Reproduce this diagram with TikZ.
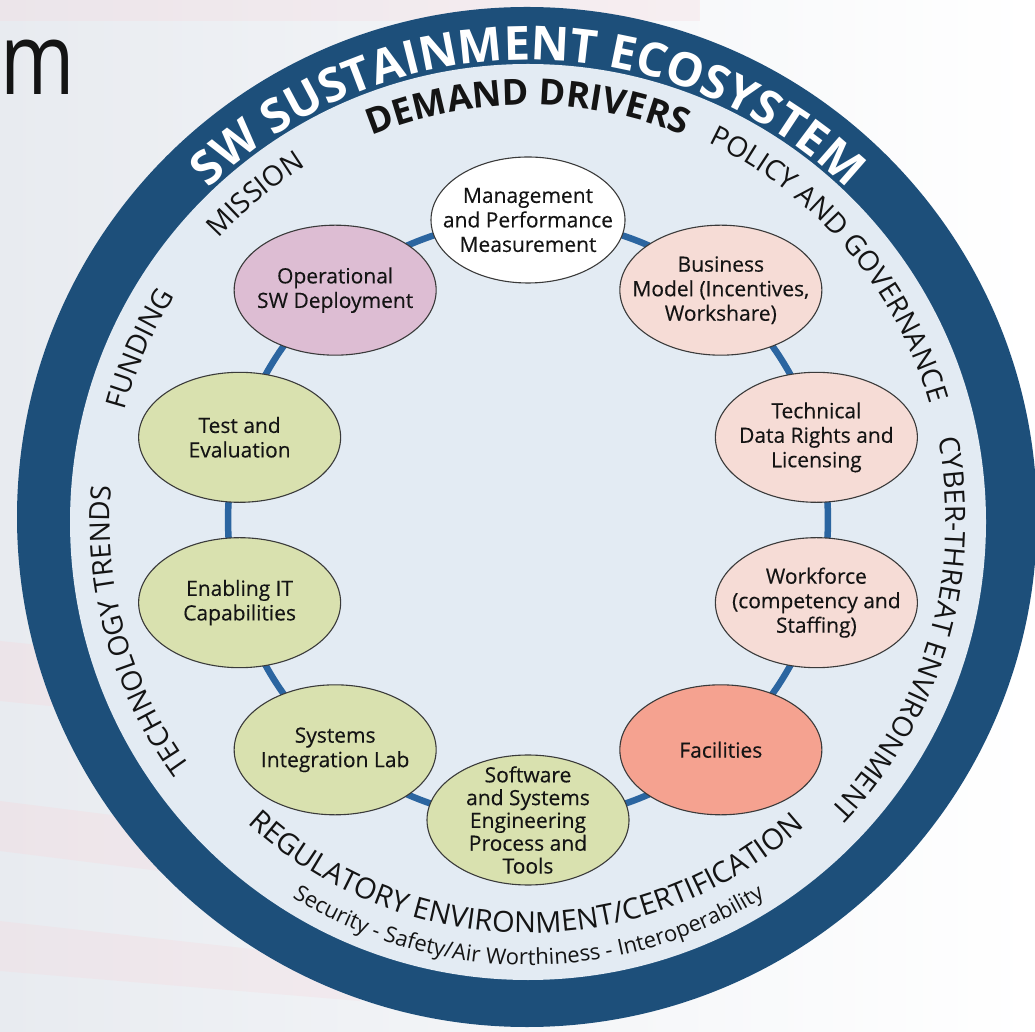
\documentclass[tikz,border=0pt]{standalone}
\usepackage{fontspec}
\setmainfont{Open Sans}
\newfontfamily\mfont[FakeStretch=0.8]{Open Sans}
\newfontfamily\ndfont[FakeBold=0.3]{Open Sans}
\usetikzlibrary{shapes.geometric,decorations.text}
\definecolor{ringblue}{HTML}{1D4F7A}
\definecolor{innerfill}{HTML}{E3EBF3}
\definecolor{connblue}{HTML}{2B65A0}
\definecolor{nodeline}{HTML}{3A3A3A}
\definecolor{textblack}{HTML}{141414}
\definecolor{cwhite}{HTML}{FFFFFF}
\definecolor{cpink}{HTML}{F6DCD6}
\definecolor{csalmon}{HTML}{F5A290}
\definecolor{cgreen}{HTML}{D9E1AF}
\definecolor{cmauve}{HTML}{DDBDD3}
\definecolor{bgleft}{HTML}{E8EBF0}
\definecolor{bgpink}{HTML}{F6D9DE}
\pgfdeclarelayer{ringlayer}
\pgfdeclarelayer{connlayer}
\pgfsetlayers{ringlayer,connlayer,main}
\begin{document}
\begin{tikzpicture}[x=1pt,y=1pt,
  nd/.style={ellipse, draw=nodeline, line width=1.1pt, minimum width=202pt, minimum height=130pt,
    inner sep=0pt},
  ntext/.style={inner sep=0pt, align=center, font=\ndfont\fontsize{21}{24.5}\selectfont, text=textblack},
  conn/.style={draw=connblue, line width=6.5pt, looseness=0.87}]
\useasboundingbox (0,0) rectangle (1035,1031);
\coordinate (C) at (528,511);
\begin{pgfonlayer}{ringlayer}
  \shade[left color=bgleft, right color=white] (0,0) rectangle (1035,1031);
  \fill[bgpink, opacity=0.35] (0,390) -- (300,360) -- (300,300) -- (0,330) -- cycle;
  \fill[bgpink, opacity=0.35] (0,230) -- (320,190) -- (320,140) -- (0,180) -- cycle;
  \fill[bgpink, opacity=0.30] (0,110) -- (360,70) -- (360,30) -- (0,60) -- cycle;
  \fill[bgpink, opacity=0.30] (0,1031) rectangle (700,1010);
  \fill[ringblue] (527,514) circle[radius=510];
  \fill[innerfill] (528,509) circle[radius=458];
\end{pgfonlayer}

\node[anchor=base west, inner sep=0pt, font=\mfont\fontsize{100}{100}\selectfont, text=textblack] (mtext) at (0,936) {m};

\node[nd, fill=cwhite, minimum width=194pt, minimum height=126pt] (n1) at ([shift={(90:300)}]C) {};
\node[nd, fill=cpink] (n2) at ([shift={(50:300)}]C) {};
\node[nd, fill=cpink] (n3) at ([shift={(16:300)}]C) {};
\node[nd, fill=cpink] (n4) at ([shift={(-16:300)}]C) {};
\node[nd, fill=csalmon] (n5) at ([shift={(-50:300)}]C) {};
\node[nd, fill=cgreen] (n6) at ([shift={(-90:300)}]C) {};
\node[nd, fill=cgreen] (n7) at ([shift={(230:300)}]C) {};
\node[nd, fill=cgreen] (n8) at ([shift={(196:300)}]C) {};
\node[nd, fill=cgreen] (n9) at ([shift={(164:300)}]C) {};
\node[nd, fill=cmauve] (n10) at ([shift={(130:300)}]C) {};

\node[ntext] (t1) at (n1) {Management\\and Performance\\Measurement};
\node[ntext] (t2) at (n2) {Business\\Model (Incentives,\\Workshare)};
\node[ntext] (t3) at (n3) {Technical\\Data Rights and\\Licensing};
\node[ntext] (t4) at (n4) {Workforce\\(competency and\\Staffing)};
\node[ntext] (t5) at (n5) {Facilities};
\node[ntext, font=\ndfont\fontsize{21}{22.8}\selectfont] (t6) at (n6) {Software\\and Systems\\Engineering\\Process and\\Tools};
\node[ntext] (t7) at (n7) {Systems\\Integration Lab};
\node[ntext] (t8) at (n8) {Enabling IT\\Capabilities};
\node[ntext] (t9) at (n9) {Test and\\Evaluation};
\node[ntext] (t10) at (n10) {Operational\\SW Deployment};

\begin{pgfonlayer}{connlayer}
  \draw[conn] (n1.center) to[bend left=20] (n2.center);
  \draw[conn] (n2.center) to[bend left=17] (n3.center);
  \draw[conn] (n3.center) to[bend left=16] (n4.center);
  \draw[conn] (n4.center) to[bend left=17] (n5.center);
  \draw[conn] (n5.center) to[bend left=20] (n6.center);
  \draw[conn] (n6.center) to[bend left=20] (n7.center);
  \draw[conn] (n7.center) to[bend left=17] (n8.center);
  \draw[conn] (n8.center) to[bend left=16] (n9.center);
  \draw[conn] (n9.center) to[bend left=17] (n10.center);
  \draw[conn] (n10.center) to[bend left=20] (n1.center);
\end{pgfonlayer}

% ring title
\path[decorate, decoration={text along path, text align=center, text color=white,
  text={|\fontsize{47}{47}\selectfont\bfseries|SW SUSTAINMENT ECOSYSTEM}}]
  ([shift={(175:460)}]C) arc[start angle=175, end angle=5, radius=460];
% demand drivers
\path[decorate, decoration={text along path, text align=center, text color=textblack,
  text={|\fontsize{36}{36}\selectfont\bfseries|DEMAND DRIVERS}}]
  ([shift={(150:415)}]C) arc[start angle=150, end angle=30, radius=415];
% clockwise labels
\path[decorate, decoration={text along path, text align=center, text color=textblack,
  text={|\fontsize{28}{28}\selectfont|POLICY AND GOVERNANCE}}]
  ([shift={(85.3:418)}]C) arc[start angle=85.3, end angle=-4.7, radius=418];
\path[decorate, decoration={text along path, text align=center, text color=textblack,
  text={|\fontsize{28}{28}\selectfont|CYBER-THREAT ENVIRONMENT}}]
  ([shift={(30:418)}]C) arc[start angle=30, end angle=-62.6, radius=418];
\path[decorate, decoration={text along path, text align=center, text color=textblack,
  text={|\fontsize{28}{28}\selectfont|MISSION}}]
  ([shift={(150:418)}]C) arc[start angle=150, end angle=109.8, radius=418];
\path[decorate, decoration={text along path, text align=center, text color=textblack,
  text={|\fontsize{28}{28}\selectfont|FUNDING}}]
  ([shift={(176.2:418)}]C) arc[start angle=176.2, end angle=136.2, radius=418];
\path[decorate, decoration={text along path, text align=center, text color=textblack,
  text={|\fontsize{28}{28}\selectfont|TECHNOLOGY TRENDS}}]
  ([shift={(225.7:418)}]C) arc[start angle=225.7, end angle=165.7, radius=418];
% bottom labels (counterclockwise)
\path[decorate, decoration={text along path, text align=center, text color=textblack,
  text={|\fontsize{29}{29}\selectfont|REGULATORY ENVIRONMENT/CERTIFICATION}}]
  ([shift={(215:413)}]C) arc[start angle=215, end angle=324.4, radius=413];
\path[decorate, decoration={text along path, text align=center, text color=textblack,
  text={|\fontsize{22}{22}\selectfont|Security - Safety/Air Worthiness - Interoperability}}]
  ([shift={(220:445)}]C) arc[start angle=220, end angle=320.2, radius=445];
\end{tikzpicture}
\end{document}
